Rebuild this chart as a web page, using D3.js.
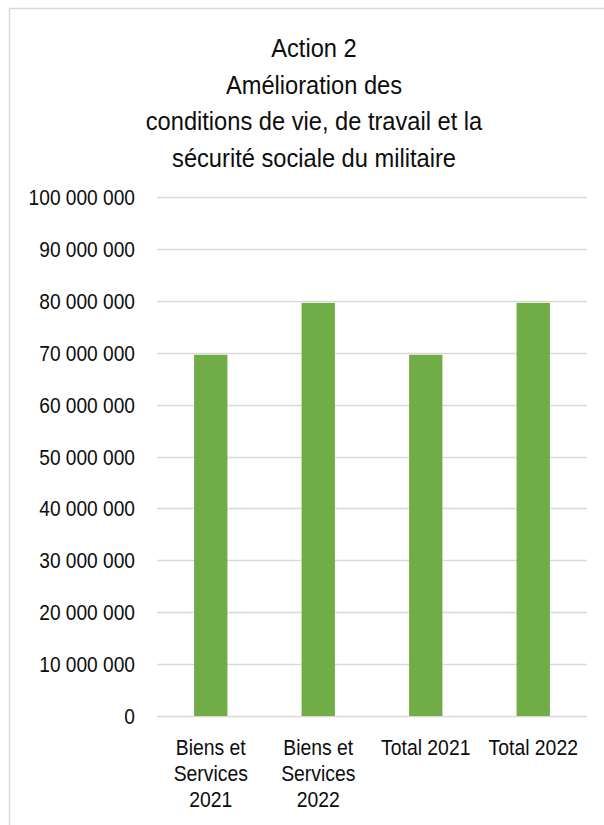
<!DOCTYPE html>
<html lang="fr">
<head>
  <meta charset="UTF-8">
  <title>Action 2</title>
  <script src="https://d3js.org/d3.v7.min.js"></script>
  <style>
    body { margin: 0; background: #fff; }
    text { font-family: "Liberation Sans", Arial, sans-serif; fill: #0d0d0d; }
  </style>
</head>
<body>
<div id="chart"></div>
<script>
  // chart data
  const categories = ["Biens et Services 2021", "Biens et Services 2022", "Total 2021", "Total 2022"];
  const categoryLines = [["Biens et", "Services", "2021"], ["Biens et", "Services", "2022"], ["Total 2021"], ["Total 2022"]];
  const values = [69600000, 79600000, 69600000, 79600000];
  const yTicks = [0, 10000000, 20000000, 30000000, 40000000, 50000000, 60000000, 70000000, 80000000, 90000000, 100000000];
  const titleLines = ["Action 2", "Amélioration des", "conditions de vie, de travail et la", "sécurité sociale du militaire"];

  const W = 604, H = 825;
  const plot = { left: 157, right: 587, top: 197, bottom: 716 };

  const svg = d3.select("#chart").append("svg")
    .attr("width", W)
    .attr("height", H);

  // frame (left + top edges visible)
  svg.append("path")
    .attr("d", `M9.5,${H} V8.5 H${W}`)
    .attr("fill", "none")
    .attr("stroke", "#d9d9d9")
    .attr("stroke-width", 1.5);

  const x = d3.scaleBand()
    .domain(categories)
    .range([plot.left, plot.right])
    .paddingInner(0.69)
    .paddingOuter(0.345);

  const y = d3.scaleLinear()
    .domain([0, 100000000])
    .range([plot.bottom, plot.top]);

  const fmt = v => d3.format(",")(v).replace(/,/g, " ");

  // title
  const titleX = 314;
  svg.append("g").selectAll("text")
    .data(titleLines)
    .join("text")
    .attr("transform", (d, i) => `translate(${titleX},${57 + i * 36.5}) scale(0.91,1)`)
    .attr("text-anchor", "middle")
    .attr("font-size", 26)
    .text(d => d);

  // gridlines
  svg.append("g").selectAll("line")
    .data(yTicks)
    .join("line")
    .attr("x1", plot.left)
    .attr("x2", plot.right)
    .attr("y1", d => Math.round(y(d)) + 0.5)
    .attr("y2", d => Math.round(y(d)) + 0.5)
    .attr("stroke", "#d9d9d9")
    .attr("stroke-width", 1.5);

  // y labels
  svg.append("g").selectAll("text")
    .data(yTicks)
    .join("text")
    .attr("transform", d => `translate(135,${y(d)}) scale(0.87,1)`)
    .attr("text-anchor", "end")
    .attr("dominant-baseline", "central")
    .attr("font-size", 22)
    .text(d => fmt(d));

  // bars
  svg.append("g").selectAll("rect")
    .data(values)
    .join("rect")
    .attr("x", (d, i) => x(categories[i]))
    .attr("y", d => y(d))
    .attr("width", x.bandwidth())
    .attr("height", d => y(0) - y(d))
    .attr("fill", "#70ad47");

  // x labels
  const xl = svg.append("g").selectAll("g")
    .data(categoryLines)
    .join("g")
    .attr("transform", (d, i) => `translate(${x(categories[i]) + x.bandwidth() / 2},0)`);

  xl.selectAll("text")
    .data(d => d)
    .join("text")
    .attr("transform", (d, j) => `translate(0,${755 + j * 26}) scale(0.88,1)`)
    .attr("text-anchor", "middle")
    .attr("font-size", 22)
    .text(d => d);
</script>
</body>
</html>
